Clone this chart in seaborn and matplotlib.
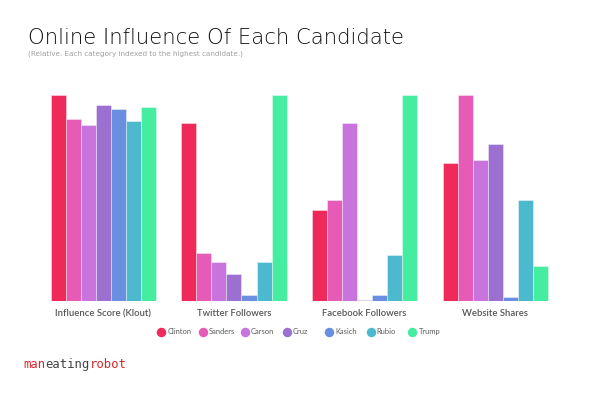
import matplotlib
matplotlib.use("Agg")
import matplotlib.pyplot as plt
import seaborn as sns
import pandas as pd

categories = ["Influence Score (Klout)", "Twitter Followers", "Facebook Followers", "Website Shares"]
candidates = ["Clinton", "Sanders", "Carson", "Cruz", "Kasich", "Rubio", "Trump"]
clinton = [100, 86.1, 43.9, 67.0]
sanders = [88.0, 23.1, 49.1, 100]
carson = [85.1, 18.9, 86.1, 68.2]
cruz = [95.2, 13.1, 0.4, 75.9]
kasich = [92.9, 2.7, 2.9, 1.9]
rubio = [87.1, 18.9, 22.1, 49.1]
trump = [94.0, 100, 100, 17.1]
colors = ["#EF2A5A", "#E65BB6", "#C874DC", "#9B70D0", "#6A8EE0", "#4CB9CE", "#44EDA0"]

series = [clinton, sanders, carson, cruz, kasich, rubio, trump]
rows = []
for name, vals in zip(candidates, series):
    for cat, v in zip(categories, vals):
        rows.append({"category": cat, "candidate": name, "value": v})
df = pd.DataFrame(rows)

sns.set_theme(style="white")
plt.rcParams['font.family'] = ['Lato', 'DejaVu Sans']

W, H = 596, 397
fig = plt.figure(figsize=(W/100, H/100), dpi=100)
ax = fig.add_axes([38/W, 1-301/H, (560.6-38)/W, (301-94.7)/H])
sns.barplot(data=df, x="category", y="value", hue="candidate", order=categories,
            hue_order=candidates, palette=colors, saturation=1, width=0.806, gap=0,
            edgecolor=(1, 1, 1, 0.45), linewidth=0.6, ax=ax, legend=False, errorbar=None)
ax.set_ylim(0, 100)
ax.set_xlim(-0.5, 3.5)
ax.set_xlabel("")
ax.set_ylabel("")
ax.set_yticks([])
for s in ax.spines.values():
    s.set_visible(False)
ax.tick_params(axis="x", length=0, pad=6, labelsize=6.8, labelcolor="#555555")
for lbl in ax.get_xticklabels():
    lbl.set_fontweight("semibold")

# legend (overlay in pixel coordinates)
lax = fig.add_axes([0, 0, 1, 1], facecolor="none")
lax.set_xlim(0, W)
lax.set_ylim(H, 0)
lax.axis("off")
for i, (n, c) in enumerate(zip(candidates, colors)):
    cx = 161 + i * 41.9
    lax.plot([cx], [331.7], marker="o", markersize=5.8, color=c, linestyle="")
    lax.text(cx + 6.3, 331.7, n, fontsize=5.4, color="#5a5a5a", va="center", ha="left")

fig.text(28/W, 1-37.8/H, "Online Influence Of Each Candidate", fontsize=15.2,
         family=["DejaVu Sans"], fontweight="light", color="#111111", va="center", ha="left")
fig.text(28/W, 1-54/H, "(Relative. Each category indexed to the highest candidate.)",
         fontsize=5.2, color="#a0a0a0", va="center", ha="left", family=["DejaVu Sans"])

# logo
fig.canvas.draw()
renderer = fig.canvas.get_renderer()
x = 23/W
for part, col in [("man", "#D8282E"), ("eating", "#444444"), ("robot", "#D8282E")]:
    t = fig.text(x, 1-368/H, part, fontsize=8.8, color=col, va="baseline", ha="left",
                 family=["DejaVu Sans Mono"])
    bb = t.get_window_extent(renderer=renderer)
    x += bb.width / fig.bbox.width

fig.savefig("out.png", dpi=100)
